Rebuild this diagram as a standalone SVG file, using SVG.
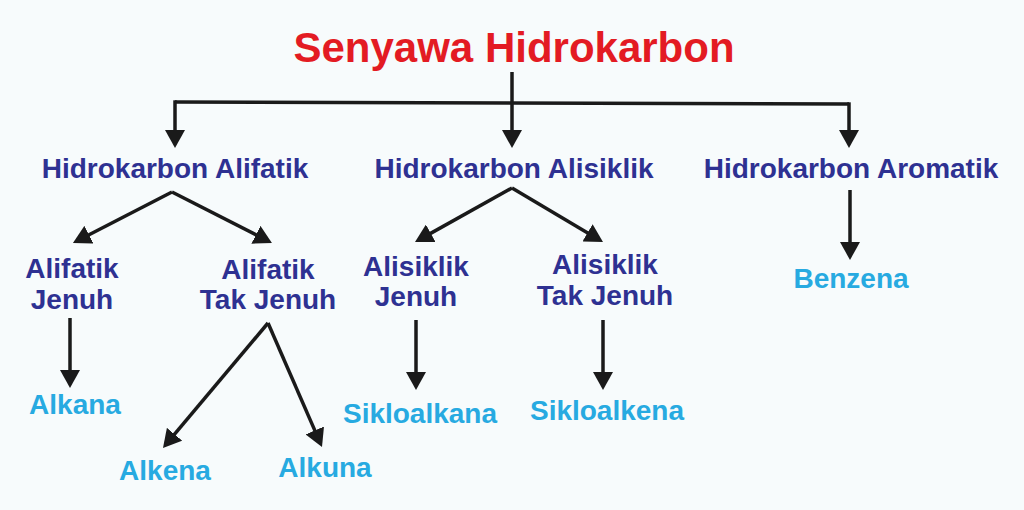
<svg xmlns="http://www.w3.org/2000/svg" width="1024" height="510" viewBox="0 0 1024 510">
<style>
text{font-family:"Liberation Sans",Arial,sans-serif;font-weight:bold;text-anchor:middle}
.t{fill:#e31b23;font-size:42px}
.n{fill:#2e3192;font-size:28px}
.c{fill:#27aae1;font-size:28px}
.ln{stroke:#1a1a1a;stroke-width:3.5;fill:none;marker-end:url(#ah)}
.pl{stroke:#1a1a1a;stroke-width:3.5;fill:none}
</style>
<defs>
<marker id="ah" viewBox="0 0 18 20" markerWidth="18" markerHeight="20" refX="13" refY="10" orient="auto" markerUnits="userSpaceOnUse">
<path d="M0,0 L18,10 L0,20 z" fill="#1a1a1a"/>
</marker>
</defs>
<rect width="1024" height="510" fill="#f7fbfc"/>
<g id="connectors">
<polyline class="pl" points="512,72 512,102"/>
<polyline class="pl" points="175,102 849,104"/>
<line class="ln" x1="175" y1="100.3" x2="175" y2="143"/>
<line class="ln" x1="849" y1="102.3" x2="849" y2="143"/>
<line class="ln" x1="512" y1="102" x2="512" y2="143"/>
<line class="ln" x1="172" y1="192" x2="77.4" y2="240.7"/>
<line class="ln" x1="172" y1="192" x2="267.5" y2="240.7"/>
<line class="ln" x1="512" y1="188" x2="419.4" y2="239.6"/>
<line class="ln" x1="512" y1="188" x2="598.7" y2="239.4"/>
<line class="ln" x1="850" y1="190" x2="850" y2="255"/>
<line class="ln" x1="70" y1="318" x2="70" y2="383"/>
<line class="ln" x1="268" y1="323" x2="166.2" y2="444.2"/>
<line class="ln" x1="268" y1="323" x2="320" y2="442.4"/>
<line class="ln" x1="416" y1="320" x2="416" y2="385"/>
<line class="ln" x1="603" y1="320" x2="603" y2="385"/>
</g>
<g id="title"><text class="t" x="514" y="62">Senyawa Hidrokarbon</text></g>
<g id="alifatik"><text class="n" x="175" y="178">Hidrokarbon Alifatik</text></g>
<g id="alisiklik"><text class="n" x="514" y="178">Hidrokarbon Alisiklik</text></g>
<g id="aromatik"><text class="n" x="851" y="178">Hidrokarbon Aromatik</text></g>
<g id="alifatik-jenuh"><text class="n" x="72" y="278">Alifatik</text><text class="n" x="72" y="309">Jenuh</text></g>
<g id="alifatik-tak-jenuh"><text class="n" x="268" y="279">Alifatik</text><text class="n" x="268" y="309">Tak Jenuh</text></g>
<g id="alisiklik-jenuh"><text class="n" x="416" y="276">Alisiklik</text><text class="n" x="416" y="306">Jenuh</text></g>
<g id="alisiklik-tak-jenuh"><text class="n" x="605" y="274">Alisiklik</text><text class="n" x="605" y="305">Tak Jenuh</text></g>
<g id="benzena"><text class="c" x="851" y="288">Benzena</text></g>
<g id="alkana"><text class="c" x="75" y="414">Alkana</text></g>
<g id="alkena"><text class="c" x="165" y="480">Alkena</text></g>
<g id="alkuna"><text class="c" x="325" y="477">Alkuna</text></g>
<g id="sikloalkana"><text class="c" x="420" y="423">Sikloalkana</text></g>
<g id="sikloalkena"><text class="c" x="607" y="420">Sikloalkena</text></g>
</svg>
